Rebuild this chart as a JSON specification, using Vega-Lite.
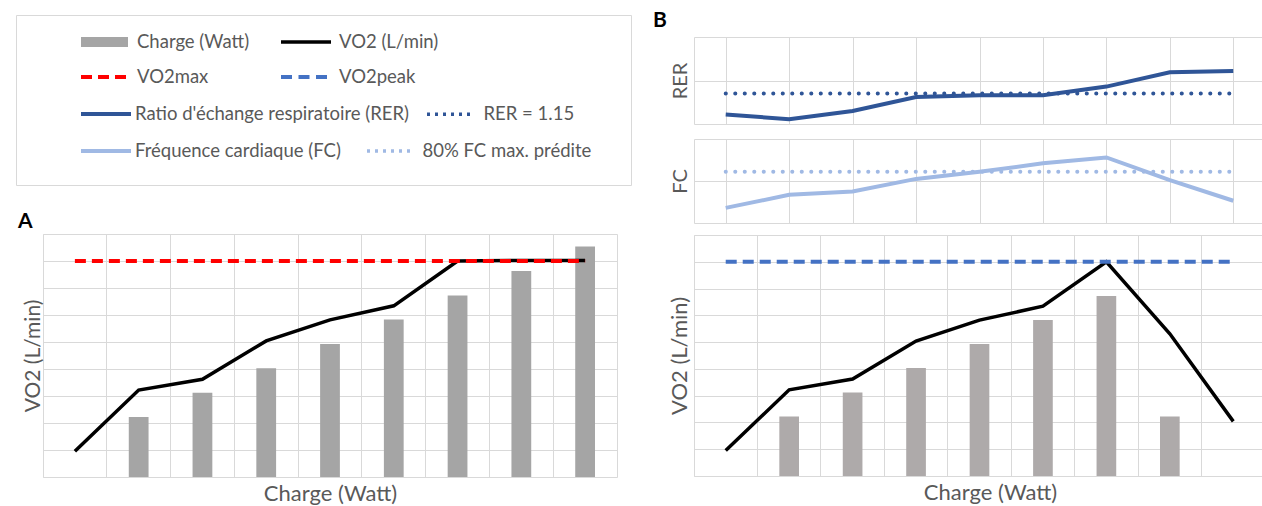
{
  "$schema": "https://vega.github.io/schema/vega-lite/v6.json",
  "background": "white",
  "padding": {"left": 15, "top": 10, "right": 0, "bottom": 0},
  "datasets": {
    "a": [
      {"stage": 1, "charge": null, "vo2": 0.95, "vo2max": 8},
      {"stage": 2, "charge": 2.22, "vo2": 3.22, "vo2max": 8},
      {"stage": 3, "charge": 3.12, "vo2": 3.62, "vo2max": 8},
      {"stage": 4, "charge": 4.03, "vo2": 5.04, "vo2max": 8},
      {"stage": 5, "charge": 4.93, "vo2": 5.82, "vo2max": 8},
      {"stage": 6, "charge": 5.83, "vo2": 6.34, "vo2max": 8},
      {"stage": 7, "charge": 6.72, "vo2": 8.0, "vo2max": 8},
      {"stage": 8, "charge": 7.63, "vo2": 8.02, "vo2max": 8},
      {"stage": 9, "charge": 8.54, "vo2": 8.02, "vo2max": 8}
    ],
    "b": [
      {"stage": 1, "charge": null, "vo2": 0.95, "vo2peak": 8, "rer": 0.22, "rer_ref": 0.7, "fc": 0.36, "fc_ref": 1.22},
      {"stage": 2, "charge": 2.22, "vo2": 3.22, "vo2peak": 8, "rer": 0.11, "rer_ref": 0.7, "fc": 0.67, "fc_ref": 1.22},
      {"stage": 3, "charge": 3.12, "vo2": 3.62, "vo2peak": 8, "rer": 0.3, "rer_ref": 0.7, "fc": 0.75, "fc_ref": 1.22},
      {"stage": 4, "charge": 4.03, "vo2": 5.04, "vo2peak": 8, "rer": 0.62, "rer_ref": 0.7, "fc": 1.05, "fc_ref": 1.22},
      {"stage": 5, "charge": 4.93, "vo2": 5.82, "vo2peak": 8, "rer": 0.66, "rer_ref": 0.7, "fc": 1.22, "fc_ref": 1.22},
      {"stage": 6, "charge": 5.83, "vo2": 6.34, "vo2peak": 8, "rer": 0.66, "rer_ref": 0.7, "fc": 1.42, "fc_ref": 1.22},
      {"stage": 7, "charge": 6.72, "vo2": 8.0, "vo2peak": 8, "rer": 0.86, "rer_ref": 0.7, "fc": 1.56, "fc_ref": 1.22},
      {"stage": 8, "charge": 2.22, "vo2": 5.31, "vo2peak": 8, "rer": 1.19, "rer_ref": 0.7, "fc": 1.02, "fc_ref": 1.22},
      {"stage": 9, "charge": null, "vo2": 2.04, "vo2peak": 8, "rer": 1.22, "rer_ref": 0.7, "fc": 0.53, "fc_ref": 1.22}
    ]
  },
  "hconcat": [
    {
      "vconcat": [
        {
          "width": 615,
          "height": 170,
          "view": {"stroke": "#d9d9d9", "strokeWidth": 1},
          "encoding": {
            "x": {"field": "v", "type": "quantitative", "scale": {"domain": [0, 1]}, "axis": null},
            "y": {"field": "v", "type": "quantitative", "scale": {"domain": [0, 1]}, "axis": null}
          },
          "layer": [
            {"data": {"values": []}, "mark": {"type": "bar"},
             "encoding": {"color": {"datum": "Charge (Watt)", "scale": {"domain": ["Charge (Watt)"], "range": ["#a5a5a5"]},
               "legend": {"title": null, "orient": "none", "legendX": 65, "legendY": 3.5, "symbolType": "M-1,-0.21H1V0.21H-1Z", "symbolSize": 2209, "symbolStrokeWidth": 0, "labelOffset": 9}}}},
            {"data": {"values": []}, "mark": {"type": "line", "strokeWidth": 3.5},
             "encoding": {"color": {"datum": "VO2 (L/min)", "scale": {"domain": ["VO2 (L/min)"], "range": ["#000000"]},
               "legend": {"title": null, "orient": "none", "legendX": 263, "legendY": 0, "symbolType": "stroke", "symbolSize": 2500, "symbolStrokeWidth": 3.5, "labelOffset": 6}}}},
            {"data": {"values": []}, "mark": {"type": "line", "strokeWidth": 4, "strokeDash": [11, 6]},
             "encoding": {"color": {"datum": "VO2max", "scale": {"domain": ["VO2max"], "range": ["#ff0000"]},
               "legend": {"title": null, "orient": "none", "legendX": 63, "legendY": 37.5, "symbolType": "stroke", "symbolSize": 2025, "symbolStrokeWidth": 4, "symbolDash": [11, 6], "labelOffset": 9}}}},
            {"data": {"values": []}, "mark": {"type": "line", "strokeWidth": 4, "strokeDash": [11, 6.5]},
             "encoding": {"color": {"datum": "VO2peak", "scale": {"domain": ["VO2peak"], "range": ["#4472c4"]},
               "legend": {"title": null, "orient": "none", "legendX": 263, "legendY": 37, "symbolType": "stroke", "symbolSize": 2116, "symbolStrokeWidth": 4, "symbolDash": [11, 6.5], "labelOffset": 10}}}},
            {"data": {"values": []}, "mark": {"type": "line", "strokeWidth": 4},
             "encoding": {"color": {"datum": "Ratio d'échange respiratoire (RER)", "scale": {"domain": ["Ratio d'échange respiratoire (RER)"], "range": ["#2f5597"]},
               "legend": {"title": null, "orient": "none", "legendX": 63, "legendY": 72, "symbolType": "stroke", "symbolSize": 2500, "symbolStrokeWidth": 4, "labelOffset": 2}}}},
            {"data": {"values": []}, "mark": {"type": "line", "strokeWidth": 3.5, "strokeDash": [3, 5]},
             "encoding": {"color": {"datum": "RER = 1.15", "scale": {"domain": ["RER = 1.15"], "range": ["#2f5597"]},
               "legend": {"title": null, "orient": "none", "legendX": 409, "legendY": 75.75, "symbolType": "stroke", "symbolSize": 1849, "symbolStrokeWidth": 3.5, "symbolDash": [3, 5], "labelOffset": 11.5}}}},
            {"data": {"values": []}, "mark": {"type": "line", "strokeWidth": 4},
             "encoding": {"color": {"datum": "Fréquence cardiaque (FC)", "scale": {"domain": ["Fréquence cardiaque (FC)"], "range": ["#a0b9e4"]},
               "legend": {"title": null, "orient": "none", "legendX": 63, "legendY": 109, "symbolType": "stroke", "symbolSize": 2500, "symbolStrokeWidth": 4, "labelOffset": 2}}}},
            {"data": {"values": []}, "mark": {"type": "line", "strokeWidth": 3.5, "strokeDash": [3, 5]},
             "encoding": {"color": {"datum": "80% FC max. prédite", "scale": {"domain": ["80% FC max. prédite"], "range": ["#a0b9e4"]},
               "legend": {"title": null, "orient": "none", "legendX": 349, "legendY": 112, "symbolType": "stroke", "symbolSize": 1936, "symbolStrokeWidth": 3.5, "symbolDash": [3, 5], "labelOffset": 9.5}}}}
          ],
          "resolve": {"scale": {"color": "independent"}}
        },
        {
          "hconcat": [
            {"width": 1, "height": 1, "view": {"stroke": null}, "data": {"values": []}, "mark": "point", "encoding": {}},
            {
              "width": 574,
              "height": 243,
              "title": {"text": "A", "dx": -25, "frame": "group"},
              "data": {"name": "a"},
              "encoding": {
                "x": {"field": "stage", "type": "ordinal", "scale": {"paddingInner": 0, "paddingOuter": 0},
                      "axis": {"bandPosition": 0, "grid": true, "title": "Charge (Watt)", "titlePadding": 6}}
              },
              "layer": [
                {"mark": {"type": "bar", "color": "#a5a5a5", "width": {"band": 0.31}},
                 "encoding": {"y": {"field": "charge", "type": "quantitative", "scale": {"domain": [0, 9], "nice": false},
                   "axis": {"values": [1, 2, 3, 4, 5, 6, 7, 8], "tickCount": 20, "grid": true, "title": "VO2 (L/min)", "titleFontSize": 21, "titlePadding": 0}}}},
                {"mark": {"type": "line", "color": "#000000", "strokeWidth": 3.5},
                 "encoding": {"y": {"field": "vo2", "type": "quantitative"}}},
                {"mark": {"type": "line", "color": "#ff0000", "strokeWidth": 4, "strokeDash": [11, 6]},
                 "encoding": {"y": {"field": "vo2max", "type": "quantitative"}}}
              ]
            }
          ],
          "spacing": 0
        }
      ],
      "spacing": 24,
      "resolve": {"scale": {"color": "independent"}}
    },
    {
      "vconcat": [
        {"width": 1, "height": 1, "view": {"stroke": null}, "data": {"values": []}, "mark": "point", "encoding": {},
         "title": {"text": "B", "dx": -41, "offset": -16, "frame": "group"}},
        {
          "vconcat": [
            {
              "width": 571,
              "height": 87,
              "data": {"name": "b"},
              "encoding": {
                "x": {"field": "stage", "type": "ordinal", "scale": {"paddingInner": 0, "paddingOuter": 0},
                      "axis": {"bandPosition": 0, "grid": true, "title": null}}
              },
              "layer": [
                {"mark": {"type": "line", "color": "#2f5597", "strokeWidth": 4},
                 "encoding": {"y": {"field": "rer", "type": "quantitative", "scale": {"domain": [0, 2], "nice": false},
                   "axis": {"values": [1], "grid": true, "title": "RER", "titleFontSize": 20, "titlePadding": 4}}}},
                {"mark": {"type": "line", "color": "#2f5597", "strokeWidth": 4, "strokeDash": [0.1, 9.4], "strokeCap": "round"},
                 "encoding": {"y": {"field": "rer_ref", "type": "quantitative"}}}
              ]
            },
            {
              "width": 571,
              "height": 84,
              "data": {"name": "b"},
              "encoding": {
                "x": {"field": "stage", "type": "ordinal", "scale": {"paddingInner": 0, "paddingOuter": 0},
                      "axis": {"bandPosition": 0, "grid": true, "title": null}}
              },
              "layer": [
                {"mark": {"type": "line", "color": "#a0b9e4", "strokeWidth": 4},
                 "encoding": {"y": {"field": "fc", "type": "quantitative", "scale": {"domain": [0, 2], "nice": false},
                   "axis": {"values": [1], "grid": true, "title": "FC", "titleFontSize": 20, "titlePadding": 4}}}},
                {"mark": {"type": "line", "color": "#a0b9e4", "strokeWidth": 4, "strokeDash": [0.1, 9.4], "strokeCap": "round"},
                 "encoding": {"y": {"field": "fc_ref", "type": "quantitative"}}}
              ]
            },
            {
              "width": 571,
              "height": 241,
              "data": {"name": "b"},
              "encoding": {
                "x": {"field": "stage", "type": "ordinal", "scale": {"paddingInner": 0, "paddingOuter": 0},
                      "axis": {"bandPosition": 0, "grid": true, "title": "Charge (Watt)", "titlePadding": 6, "titleX": 296}}
              },
              "layer": [
                {"mark": {"type": "bar", "color": "#aeaaaa", "width": {"band": 0.31}},
                 "encoding": {"y": {"field": "charge", "type": "quantitative", "scale": {"domain": [0, 9], "nice": false},
                   "axis": {"values": [1, 2, 3, 4, 5, 6, 7, 8], "tickCount": 20, "grid": true, "title": "VO2 (L/min)", "titlePadding": 3}}}},
                {"mark": {"type": "line", "color": "#000000", "strokeWidth": 3.5},
                 "encoding": {"y": {"field": "vo2", "type": "quantitative"}}},
                {"mark": {"type": "line", "color": "#4472c4", "strokeWidth": 4, "strokeDash": [11, 6]},
                 "encoding": {"y": {"field": "vo2peak", "type": "quantitative"}}}
              ]
            }
          ],
          "spacing": 10
        }
      ],
      "spacing": 5
    }
  ],
  "spacing": 21,
  "resolve": {"scale": {"color": "independent"}},
  "config": {
    "view": {"stroke": "#d9d9d9", "strokeWidth": 1},
    "axis": {"labels": false, "ticks": false, "domain": false, "gridColor": "#d9d9d9", "gridWidth": 1,
             "titleFont": "Lato", "titleFontSize": 22, "titleFontWeight": "normal", "titleColor": "#595959"},
    "legend": {"labelFont": "Lato", "labelFontSize": 18.5, "labelColor": "#595959", "labelLimit": 400, "padding": 0},
    "title": {"font": "Lato", "fontSize": 21, "fontWeight": "bold", "color": "#000000", "anchor": "start", "frame": "group", "offset": 2}
  }
}
